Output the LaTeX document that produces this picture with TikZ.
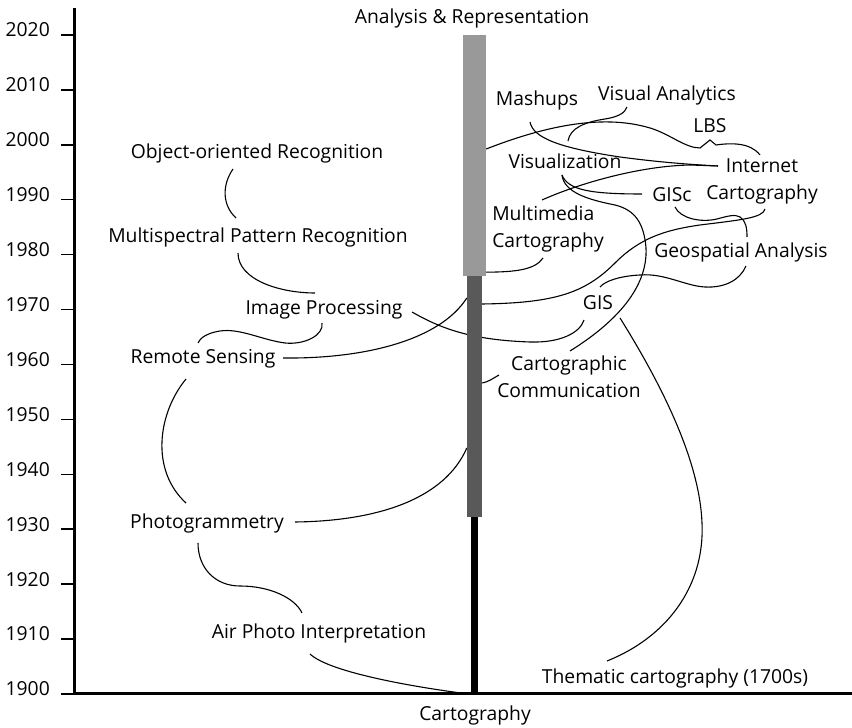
\documentclass[tikz,border=0pt]{standalone}
\usepackage{fontspec}
\setmainfont{Open Sans}
\usetikzlibrary{calc,backgrounds}
\definecolor{repgray}{RGB}{153,153,153}
\definecolor{commgray}{RGB}{89,89,89}

\begin{document}
\begin{tikzpicture}[
  x=1pt, y=1pt,
  font=\fontsize{19.3}{27}\selectfont,
  lbl/.style={inner sep=1pt, align=center},
  yrlbl/.style={anchor=east, inner sep=0pt},
  bar/.style={draw=none, inner sep=0pt},
  link/.style={black, line width=1.1pt},
  axis/.style={black, line width=3pt},
  tick/.style={black, line width=1.5pt}
]
\useasboundingbox (0,0) rectangle (852,728);

% time axis
\draw[axis] (74,720) -- (74,34) -- (852,34);
\foreach \yr in {1900,1910,...,2020} {
  \draw[tick] (61,{34+(\yr-1900)*5.4917}) -- (74,{34+(\yr-1900)*5.4917});
  \node[yrlbl] (y\yr) at (50,{39+(\yr-1900)*5.4917}) {\yr};
}

% the three stages of the trunk
\node[bar, fill=repgray, minimum width=23, minimum height=241] (repbar) at (474.5,572.5) {};
\node[bar, fill=commgray, minimum width=15, minimum height=241] (commbar) at (474.5,331.5) {};
\node[bar, fill=black, minimum width=7, minimum height=177] (cartbar) at (474,122.5) {};

\node[lbl] (anrep) at (472,710) {Analysis \& Representation};
\node[lbl] (carto) at (475,13) {Cartography};

% remote sensing side
\node[lbl] (obj) at (257,575) {Object-oriented Recognition};
\node[lbl] (msp) at (258,491) {Multispectral Pattern Recognition};
\node[lbl] (imgp) at (324,418) {Image Processing};
\node[lbl] (rs) at (203,369) {Remote Sensing};
\node[lbl] (photo) at (207,205) {Photogrammetry};
\node[lbl] (api) at (319,95) {Air Photo Interpretation};

% cartography side
\node[lbl] (them) at (675,50) {Thematic cartography (1700s)};
\node[lbl] (cc) at (569,351) {Cartographic\\Communication};
\node[lbl] (gis) at (598,425) {GIS};
\node[lbl] (geo) at (741,476) {Geospatial Analysis};
\node[lbl, align=left] (mm) at (548,499.5) {Multimedia\\Cartography};
\node[lbl] (gisc) at (672,533) {GISc};
\node[lbl] (inet) at (762,547) {Internet\\Cartography};
\node[lbl] (vis) at (565,567) {Visualization};
\node[lbl] (lbs) at (710,602) {LBS};
\node[lbl] (mash) at (537,628) {Mashups};
\node[lbl] (va) at (667,633) {Visual Analytics};

\begin{scope}[on background layer]
\draw[link] ($(obj.center)+(-24,-16)$) .. controls (222,543) and (222,523) .. ($(msp.center)+(-22,19)$);
\draw[link] ($(msp.center)+(-20,-16)$) .. controls (238,448) and (280,435) .. ($(imgp.center)+(-9,17)$);
\draw[link] ($(imgp.center)+(-2,-13)$) .. controls (324,393) and (305,383) .. (285,385)
  .. controls (262,388) and (240,400) .. (220,397) .. controls (207,395) and (200,390) .. ($(rs.center)+(-5,16)$);
\draw[link] ($(rs.center)+(80,1)$) .. controls (365,369) and (440,388) .. ($(commbar.west)+(0,98.5)$);
\draw[link] ($(photo.center)+(88,1)$) .. controls (380,207) and (445,230) .. ($(commbar.west)+(0,-51.5)$);
\draw[link] ($(rs.center)+(-17,-20)$) .. controls (158,315) and (150,258) .. ($(photo.center)+(-21,20)$);
\draw[link] ($(photo.center)+(-9,-20)$) .. controls (198,160) and (215,142) .. (240,142)
  .. controls (270,142) and (295,130) .. ($(api.center)+(-17,20)$);
\draw[link] ($(api.center)+(-9,-21)$) .. controls (330,55) and (420,40) .. (cartbar.south west);
\draw[link] ($(them.center)+(-68,17)$) .. controls (665,90) and (705,140) .. (702,205)
  .. controls (700,260) and (670,330) .. ($(gis.center)+(22,-15)$);
\draw[link] ($(cc.center)+(-70,2)$) .. controls (492,349) and (488,346) .. ($(commbar.east)+(0,13.5)$);
\draw[link] ($(cc.center)+(1,26)$) .. controls (615,405) and (648,440) .. (646,480)
  .. controls (644,505) and (635,518) .. (615,523) .. controls (590,528) and (564,535) .. ($(vis.center)+(-3,-14)$);
\draw[link] ($(vis.center)+(-3,-14)$) .. controls (568,538) and (590,534) .. ($(gisc.center)+(-30,1)$);
\draw[link] ($(mm.center)+(-5,-29.5)$) .. controls (535,458) and (515,456) .. ($(repbar.south east)+(0,4)$);
\draw[link] ($(mm.center)+(-6,28.5)$) .. controls (580,545) and (640,562) .. (690,563) -- ($(inet.center)+(-44,15)$);
\draw[link] ($(mash.center)+(-7,-22)$) .. controls (533,590) and (560,580) .. (620,571)
  .. controls (650,567) and (680,564) .. ($(inet.center)+(-44,15)$);
\draw[link] ($(vis.center)+(3,20)$) .. controls (570,600) and (585,606) .. (605,609)
  .. controls (618,611) and (625,615) .. ($(va.center)+(-40,-12)$);
\draw[link] ($(repbar.east)+(0,6.5)$) .. controls (540,600) and (600,615) .. (650,600)
  .. controls (670,594) and (685,580) .. (700,580) -- ($(lbs.center)+(0,-14)$) -- (716,583)
  .. controls (730,585) and (750,586) .. ($(inet.center)+(-2,26)$);
\draw[link] ($(gisc.center)+(3,-12)$) .. controls (680,510) and (700,505) .. (717,509)
  .. controls (728,512) and (735,514) .. (740,511) .. controls (746,507) and (747,500) .. ($(geo.center)+(6,15)$);
\draw[link] ($(inet.center)+(3,-28)$) .. controls (763,510) and (740,508) .. (700,503)
  .. controls (665,498) and (640,490) .. (615,465) .. controls (585,435) and (555,425) .. ($(commbar.east)+(0,92.5)$);
\draw[link] ($(geo.center)+(5,-14)$) .. controls (740,448) and (725,440) .. (705,441)
  .. controls (685,442) and (665,455) .. (640,453) .. controls (620,452) and (605,447) .. ($(gis.center)+(2,16)$);
\draw[link] ($(imgp.center)+(88,-2)$) .. controls (440,400) and (470,388) .. (530,386)
  .. controls (560,385) and (580,395) .. ($(gis.center)+(-14,-17)$);
\end{scope}
\end{tikzpicture}
\end{document}
